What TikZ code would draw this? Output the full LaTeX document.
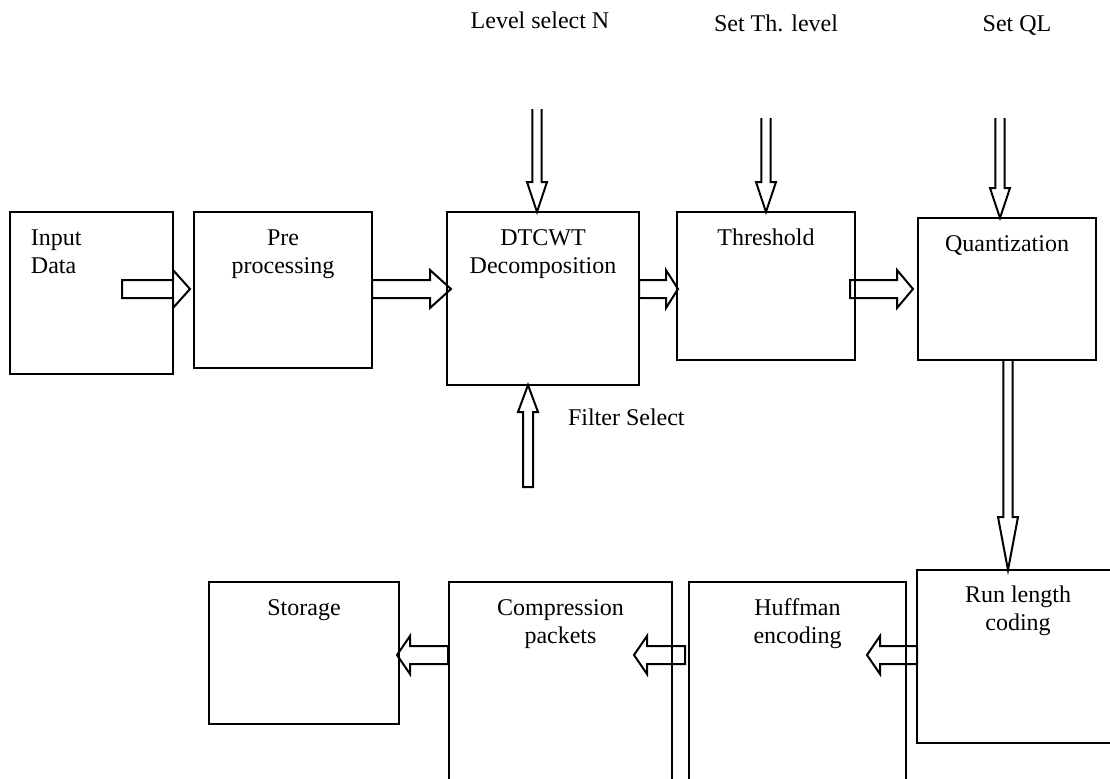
\documentclass[tikz,border=0pt]{standalone}
\usepackage{fontspec}
\setmainfont{Liberation Serif}
\usetikzlibrary{positioning, calc}
\tikzset{
  block/.style={draw, line width=1pt, anchor=north west, inner sep=0, outer sep=0},
  blocktext/.style={inner sep=0, outer sep=0, align=center, font=\fontsize{12}{14}\selectfont},
  plaintext/.style={inner sep=0, outer sep=0, font=\fontsize{12}{14}\selectfont},
  hbarrow/.style={draw, line width=1pt, to path={
    let \p1=(\tikztostart), \p2=(\tikztotarget), \p3=($(\tikztotarget)!#1!(\tikztostart)$) in
    (\x1,\y1+4.5pt) -- (\x3,\y1+4.5pt) -- (\x3,\y1+9.5pt) -- (\x2,\y1)
    -- (\x3,\y1-9.5pt) -- (\x3,\y1-4.5pt) -- (\x1,\y1-4.5pt) -- cycle}},
  vbarrow/.style={draw, line width=1pt, to path={
    let \p1=(\tikztostart), \p2=(\tikztotarget), \p3=($(\tikztotarget)!#1!(\tikztostart)$) in
    (\x1-2.35pt,\y1) -- (\x1-2.35pt,\y3) -- (\x1-5pt,\y3) -- (\x1,\y2)
    -- (\x1+5pt,\y3) -- (\x1+2.35pt,\y3) -- (\x1+2.35pt,\y1)}},
  vbarrowclosed/.style={draw, line width=1pt, to path={
    let \p1=(\tikztostart), \p2=(\tikztotarget), \p3=($(\tikztotarget)!#1!(\tikztostart)$) in
    (\x1-2.5pt,\y1) -- (\x1-2.5pt,\y3) -- (\x1-5pt,\y3) -- (\x1,\y2)
    -- (\x1+5pt,\y3) -- (\x1+2.5pt,\y3) -- (\x1+2.5pt,\y1) -- cycle}}
}

\begin{document}
\begin{tikzpicture}[x=0.5pt, y=-0.5pt]
\useasboundingbox (0,0) rectangle (1110,778);

% upper row
\node[block, minimum width=81.5pt, minimum height=81pt] (input) at (10,212) {};
\node[block, minimum width=89pt, minimum height=78pt] (pre) at (194,212) {};
\node[block, minimum width=96pt, minimum height=86.5pt] (dtcwt) at (447,212) {};
\node[block, minimum width=89pt, minimum height=74pt] (thr) at (677,212) {};
\node[block, minimum width=89pt, minimum height=71pt] (quant) at (918,218) {};

\node[blocktext, align=left, anchor=north west, below right=6.7pt and 10.5pt of input.north west] (inputtext) {\strut Input\\Data};
\node[blocktext, below=6.7pt of pre.north] (pretext) {\strut Pre\\processing};
\node[blocktext, below=6.7pt of dtcwt.north] (dtcwttext) {\strut DTCWT\\Decomposition};
\node[blocktext, below=6.7pt of thr.north] (thrtext) {\strut Threshold};
\node[blocktext, below=6.7pt of quant.north] (quanttext) {\strut Quantization};

% lower row
\node[block, minimum width=101pt, minimum height=86.5pt] (run) at (917,570) {};
\node[block, minimum width=108.5pt, minimum height=109pt] (huff) at (689,582) {};
\node[block, minimum width=111.5pt, minimum height=109pt] (comp) at (449,582) {};
\node[block, minimum width=95pt, minimum height=71pt] (storage) at (209,582) {};

\node[blocktext, below=6.2pt of run.north] (runtext) {\strut Run length\\coding};
\node[blocktext, below=6.7pt of huff.north] (hufftext) {\strut Huffman\\encoding};
\node[blocktext, below=6.7pt of comp.north] (comptext) {\strut Compression\\packets};
\node[blocktext, below=6.7pt of storage.north] (storagetext) {\strut Storage};

% control inputs
\node[plaintext, anchor=base] (lvltext) at (540,28) {Level select N};
\node[plaintext, anchor=base] (thltext) at (776,31) {Set Th. level};
\node[plaintext, anchor=base] (qltext) at (1017,31) {Set QL};
\node[plaintext, anchor=base west] (filttext) at (568,425) {Filter Select};

\coordinate (lvl) at (537,109);
\coordinate (thl) at (766,118);
\coordinate (ql) at (1000,118);
\coordinate (filt) at (528,487);
\coordinate (qout) at ([xshift=0.5pt]quant.south);

\draw[vbarrow=15pt] (lvl) to (lvl |- dtcwt.north);
\draw[vbarrow=15pt] (thl) to (thl |- thr.north);
\draw[vbarrow=15pt] (ql) to (ql |- quant.north);
\draw[vbarrowclosed=13.5pt] (filt) to (filt |- dtcwt.south);
\draw[vbarrow=26.5pt] (qout) to (qout |- run.north);

% data flow
\draw[hbarrow=8.5pt] ([shift={(-51,77)}]input.north east) to ([shift={(-4,77)}]pre.north west);
\draw[hbarrow=10.5pt] ([shift={(0,77)}]pre.north east) to ([shift={(4,77)}]dtcwt.north west);
\draw[hbarrow=6pt] ([shift={(0,77)}]dtcwt.north east) to ([shift={(1,77)}]thr.north west);
\draw[hbarrow=8pt] ([shift={(-5,77)}]thr.north east) to ([shift={(-5,71)}]quant.north west);
\draw[hbarrow=6.5pt] ([shift={(0,85)}]run.north west) to ([shift={(-39,73)}]huff.north east);
\draw[hbarrow=6.5pt] ([shift={(-4,73)}]huff.north west) to ([shift={(-38,73)}]comp.north east);
\draw[hbarrow=6.5pt] ([shift={(-1,73)}]comp.north west) to ([shift={(-2,73)}]storage.north east);

\end{tikzpicture}
\end{document}
